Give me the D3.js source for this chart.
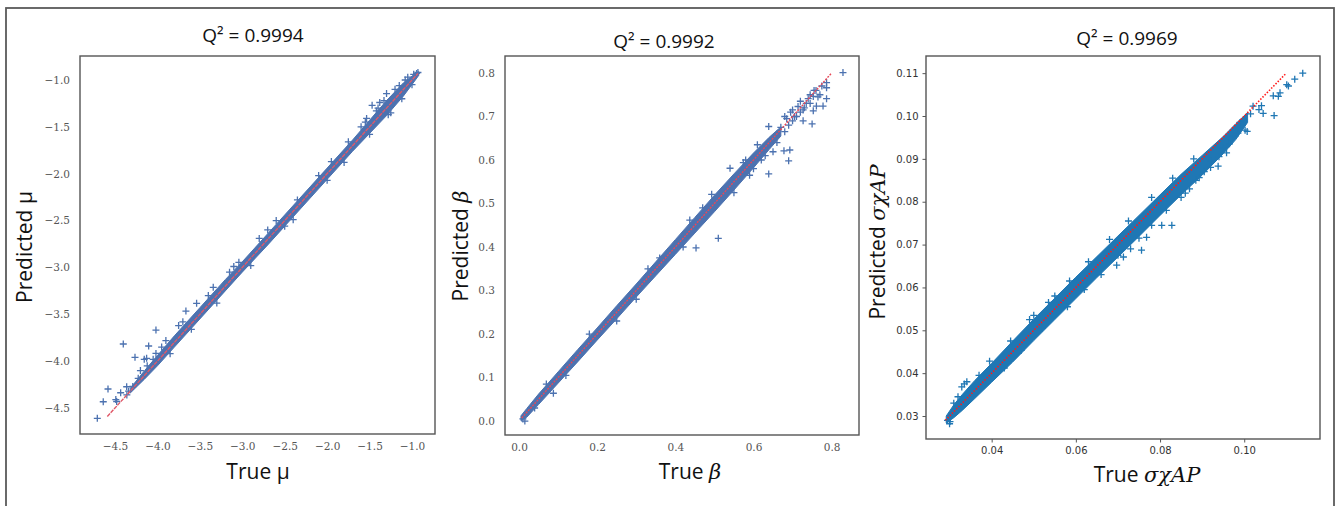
<!DOCTYPE html>
<html>
<head>
<meta charset="utf-8">
<script src="https://cdn.jsdelivr.net/npm/d3@7"></script>
<style>
  html, body { margin: 0; padding: 0; background: #fff; }
  svg { display: block; }
</style>
</head>
<body>
<svg id="chart" width="1336" height="506"></svg>
<script>
// ---------------- DATA ----------------
const titles = ["Q² = 0.9994", "Q² = 0.9992", "Q² = 0.9969"];

// Panel 1: mu
const muTicksX = [-4.5, -4.0, -3.5, -3.0, -2.5, -2.0, -1.5, -1.0];
const muTicksY = [-4.5, -4.0, -3.5, -3.0, -2.5, -2.0, -1.5, -1.0];
const muBandTrue = [-4.32, -4.15, -4.0, -3.8, -3.5, -3.2, -3.0, -2.7, -2.5, -2.2, -2.0, -1.7, -1.5, -1.3, -1.1, -0.96, -0.92];
const muBandLo   = [-4.34, -4.19, -4.05, -3.85, -3.55, -3.25, -3.05, -2.76, -2.56, -2.26, -2.06, -1.76, -1.57, -1.38, -1.17, -1.00, -0.95];
const muBandHi   = [-4.29, -4.10, -3.94, -3.73, -3.43, -3.13, -2.94, -2.64, -2.44, -2.14, -1.94, -1.64, -1.43, -1.22, -1.03, -0.93, -0.91];
const muPoints = [
  [-4.708, -4.61], [-4.638, -4.433], [-4.582, -4.297], [-4.49, -4.41], [-4.48, -4.43],
  [-4.433, -4.337], [-4.362, -4.273], [-4.402, -3.817], [-4.264, -3.959], [-4.155, -3.98],
  [-4.127, -3.97], [-4.103, -3.838], [-4.017, -3.668], [-4.29, -4.27], [-4.226, -4.183],
  [-4.017, -3.917], [-3.664, -3.465], [-3.538, -3.383], [-3.342, -3.212], [-3.04, -2.945],
  [-2.80, -2.69], [-1.47, -1.27], [-1.535, -1.41], [-1.30, -1.145], [-0.946, -0.93],
  [-0.93, -0.92], [-3.9, -3.78], [-3.75, -3.62], [-3.4, -3.3], [-3.15, -3.05],
  [-2.6, -2.5], [-2.35, -2.28], [-1.95, -1.87], [-1.6, -1.5], [-1.4, -1.3],
  [-1.2, -1.1], [-1.05, -0.97], [-3.85, -3.92], [-3.3, -3.38], [-2.9, -2.98],
  [-2.4, -2.49], [-1.8, -1.88], [-1.25, -1.35], [-1.0, -1.05], [-4.34, -4.32],
  [-4.2, -4.1], [-4.05, -3.98], [-4.36, -4.36], [-4.12, -4.05], [-3.95, -3.85],
  [-3.7, -3.58], [-3.6, -3.66], [-3.1, -2.99], [-2.7, -2.6], [-2.5, -2.56],
  [-2.1, -2.02], [-2.0, -2.07], [-1.75, -1.66], [-1.55, -1.45], [-1.5, -1.58],
  [-1.38, -1.24], [-1.33, -1.22], [-1.42, -1.33], [-1.15, -1.06], [-1.12, -1.2],
  [-1.08, -1.0], [-0.98, -0.94], [-1.28, -1.37]
];
const muLine = [-4.59, -0.93];

// Panel 2: beta
const betaTicksX = [0.0, 0.2, 0.4, 0.6, 0.8];
const betaTicksY = [0.0, 0.1, 0.2, 0.3, 0.4, 0.5, 0.6, 0.7, 0.8];
const betaBandTrue = [0.005, 0.02, 0.05, 0.1, 0.15, 0.2, 0.25, 0.3, 0.35, 0.4, 0.45, 0.5, 0.55, 0.6, 0.64, 0.67];
const betaBandLo   = [0.001, 0.009, 0.038, 0.087, 0.136, 0.186, 0.235, 0.285, 0.334, 0.383, 0.432, 0.481, 0.531, 0.582, 0.624, 0.655];
const betaBandHi   = [0.012, 0.029, 0.062, 0.113, 0.164, 0.214, 0.265, 0.315, 0.366, 0.417, 0.468, 0.519, 0.568, 0.616, 0.652, 0.676];
const betaPoints = [
  [0.829, 0.801], [0.787, 0.778], [0.787, 0.766], [0.787, 0.741], [0.778, 0.724],
  [0.750, 0.683], [0.761, 0.724], [0.740, 0.741], [0.727, 0.715], [0.753, 0.746],
  [0.714, 0.723], [0.753, 0.713], [0.727, 0.690], [0.693, 0.623], [0.678, 0.621],
  [0.690, 0.598], [0.639, 0.568], [0.639, 0.677], [0.650, 0.619], [0.540, 0.581],
  [0.510, 0.420], [0.453, 0.398], [0.493, 0.521], [0.574, 0.594], [0.437, 0.462],
  [0.088, 0.064], [0.705, 0.700], [0.720, 0.735], [0.760, 0.760], [0.770, 0.750],
  [0.620, 0.620], [0.660, 0.660], [0.600, 0.580], [0.580, 0.600], [0.550, 0.525],
  [0.470, 0.490], [0.420, 0.400], [0.360, 0.375], [0.300, 0.280], [0.330, 0.350],
  [0.250, 0.230], [0.180, 0.200], [0.120, 0.105], [0.070, 0.085], [0.040, 0.030],
  [0.010, 0.005], [0.015, 0.000], [0.660, 0.640], [0.670, 0.675], [0.690, 0.680],
  [0.700, 0.690], [0.695, 0.710], [0.710, 0.700], [0.720, 0.710], [0.730, 0.720],
  [0.735, 0.730], [0.745, 0.730], [0.745, 0.750], [0.755, 0.760], [0.765, 0.745],
  [0.775, 0.770], [0.680, 0.665], [0.685, 0.695], [0.640, 0.640], [0.630, 0.610],
  [0.610, 0.635], [0.620, 0.600], [0.680, 0.700], [0.700, 0.715], [0.590, 0.565]
];
const betaLine = [0.007, 0.80];

// Panel 3: sigma chi AP
const sxTicksX = [0.04, 0.06, 0.08, 0.10];
const sxTicksY = [0.03, 0.04, 0.05, 0.06, 0.07, 0.08, 0.09, 0.10, 0.11];
const sxBandTrue = [0.0292, 0.031, 0.033, 0.036, 0.040, 0.045, 0.050, 0.055, 0.060, 0.065, 0.070, 0.075, 0.080, 0.085, 0.090, 0.095, 0.098, 0.1008];
const sxBandLo   = [0.0284, 0.0296, 0.0313, 0.0341, 0.0379, 0.0426, 0.0476, 0.0525, 0.0574, 0.0623, 0.0671, 0.0719, 0.0768, 0.0816, 0.0862, 0.0912, 0.0945, 0.0985];
const sxBandHi   = [0.0300, 0.0326, 0.0350, 0.0383, 0.0423, 0.0475, 0.0526, 0.0575, 0.0624, 0.0672, 0.0720, 0.0768, 0.0816, 0.0864, 0.0908, 0.0952, 0.0982, 0.1008];
const sxPoints = [
  [0.1139, 0.1100], [0.1120, 0.1086], [0.1101, 0.1073], [0.1105, 0.1070], [0.1085, 0.1054],
  [0.1081, 0.1046], [0.1069, 0.1047], [0.1071, 0.1001], [0.1045, 0.1006], [0.1041, 0.1024],
  [0.1021, 0.1023], [0.1002, 0.0967], [0.1007, 0.0964], [0.0974, 0.0953], [0.0958, 0.0914],
  [0.0938, 0.0883], [0.0893, 0.0856], [0.0828, 0.0745], [0.0804, 0.0745], [0.0768, 0.0717],
  [0.0756, 0.0687], [0.0697, 0.0652], [0.0713, 0.0671], [0.0329, 0.0368], [0.0341, 0.0380],
  [0.0301, 0.0287], [0.0335, 0.0375], [0.0300, 0.0282], [0.0295, 0.0290], [0.0990, 0.0985],
  [0.1015, 0.1005], [0.1035, 0.1015], [0.0965, 0.0935], [0.0920, 0.0895], [0.0870, 0.0830],
  [0.0850, 0.0810], [0.0815, 0.0780], [0.0780, 0.0745], [0.0730, 0.0690], [0.0660, 0.0630],
  [0.0620, 0.0595], [0.0580, 0.0555], [0.0520, 0.0505], [0.0470, 0.0453], [0.0430, 0.0412],
  [0.0445, 0.0475], [0.0490, 0.0525], [0.0535, 0.0565], [0.0585, 0.0615], [0.0630, 0.0660],
  [0.0680, 0.0712], [0.0725, 0.0755], [0.0780, 0.0810], [0.0830, 0.0855], [0.0880, 0.0900],
  [0.0370, 0.0395], [0.0395, 0.0428], [0.0950, 0.0925], [0.0985, 0.0960], [0.0905, 0.0870],
  [0.0885, 0.0850], [0.0860, 0.0820], [0.0920, 0.0880], [0.0940, 0.0905], [0.0310, 0.0330],
  [0.0320, 0.0345], [0.0500, 0.0535], [0.0550, 0.0580], [0.0700, 0.0675], [0.0750, 0.0715]
];
const sxLine = [0.029, 0.110];

// ---------------- LAYOUT ----------------
const svg = d3.select("#chart");
svg.append("rect").attr("x", 0).attr("y", 0).attr("width", 1336).attr("height", 506).attr("fill", "#fff");
svg.append("rect").attr("x", 6).attr("y", 8).attr("width", 1328).attr("height", 520)
  .attr("fill", "none").attr("stroke", "#5a5a5a").attr("stroke-width", 1.8);

const LABEL_FONT = "'Open Sans', 'Noto Sans', sans-serif";
const MATH_FONT = "'DejaVu Serif', 'Liberation Serif', serif";

const panels = [
  {
    box: {x0: 80, x1: 435, y0: 56, y1: 434}, xDom: [-4.912, -0.729], yDom: [-4.777, -0.744],
    ticksX: muTicksX, ticksY: muTicksY, fmt: d3.format(".1f"), tickFont: "'DejaVu Serif', serif", tickSize: 10.5, tickColor: "#555", tickLen: 0,
    band: [muBandTrue, muBandLo, muBandHi], points: muPoints, line: muLine,
    color: "#4c72b0", lineColor: "#e05868", lineDash: "4,1", lineWidth: 1.4,
    title: titles[0], titleX: 253, titleY: 42,
    xLabel: ["True μ", null], xLabelX: 258, xLabelY: 479,
    yLabel: ["Predicted μ", null], yLabelX: 32, yLabelY: 247
  },
  {
    box: {x0: 505, x1: 859, y0: 56, y1: 435}, xDom: [-0.0358, 0.870], yDom: [-0.032, 0.839],
    ticksX: betaTicksX, ticksY: betaTicksY, fmt: d3.format(".1f"), tickFont: "'DejaVu Serif', serif", tickSize: 10.5, tickColor: "#555", tickLen: 0,
    band: [betaBandTrue, betaBandLo, betaBandHi], points: betaPoints, line: betaLine,
    color: "#4c72b0", lineColor: "#e84858", lineDash: "2,1.2", lineWidth: 1.4,
    title: titles[1], titleX: 664, titleY: 48,
    xLabel: ["True ", "β"], xLabelX: 690, xLabelY: 479,
    yLabel: ["Predicted ", "β"], yLabelX: 468, yLabelY: 246
  },
  {
    box: {x0: 926, x1: 1320, y0: 56, y1: 439}, xDom: [0.0244, 0.118], yDom: [0.02464, 0.1140],
    ticksX: sxTicksX, ticksY: sxTicksY, fmt: d3.format(".2f"), tickFont: "'DejaVu Sans', sans-serif", tickSize: 10, tickColor: "#333", tickLen: 3.5,
    band: [sxBandTrue, sxBandLo, sxBandHi], points: sxPoints, line: sxLine,
    color: "#1f77b4", lineColor: "#ff1a1a", lineDash: "1.5,1.6", lineWidth: 1.6,
    title: titles[2], titleX: 1127, titleY: 45,
    xLabel: ["True ", "σχAP"], xLabelX: 1147, xLabelY: 482,
    yLabel: ["Predicted ", "σχAP"], yLabelX: 885, yLabelY: 242
  }
];

const minus = s => s.replace("-", "\u2212");

panels.forEach(p => {
  const b = p.box;
  const x = d3.scaleLinear().domain(p.xDom).range([b.x0, b.x1]);
  const y = d3.scaleLinear().domain(p.yDom).range([b.y1, b.y0]);
  const g = svg.append("g");

  const clipId = "clip" + b.x0;
  svg.append("clipPath").attr("id", clipId).append("rect")
    .attr("x", b.x0).attr("y", b.y0).attr("width", b.x1 - b.x0).attr("height", b.y1 - b.y0);
  const plot = g.append("g").attr("clip-path", `url(#${clipId})`);

  // dense band of points
  const [bt, blo, bhi] = p.band;
  const bandData = bt.map((t, i) => ({t, lo: blo[i], hi: bhi[i]}));
  plot.append("path").datum(bandData)
    .attr("d", d3.area().x(d => x(d.t)).y0(d => y(d.lo)).y1(d => y(d.hi)))
    .attr("fill", p.color).attr("stroke", p.color).attr("stroke-width", 1).attr("stroke-linejoin", "round");

  // individual + markers
  const s = 3.5;
  plot.selectAll("path.pt").data(p.points).enter().append("path")
    .attr("class", "pt")
    .attr("d", d => `M${x(d[0]) - s},${y(d[1])}H${x(d[0]) + s}M${x(d[0])},${y(d[1]) - s}V${y(d[1]) + s}`)
    .attr("stroke", p.color).attr("stroke-width", 1.3).attr("fill", "none");

  // ideal line
  plot.append("line")
    .attr("x1", x(p.line[0])).attr("y1", y(p.line[0]))
    .attr("x2", x(p.line[1])).attr("y2", y(p.line[1]))
    .attr("stroke", p.lineColor).attr("stroke-width", p.lineWidth).attr("stroke-dasharray", p.lineDash);

  // axes
  const ax = g.append("g").attr("transform", `translate(0,${b.y1})`)
    .call(d3.axisBottom(x).tickValues(p.ticksX).tickFormat(d => minus(p.fmt(d)))
      .tickSize(p.tickLen).tickPadding(p.tickLen ? 4 : 9));
  const ay = g.append("g").attr("transform", `translate(${b.x0},0)`)
    .call(d3.axisLeft(y).tickValues(p.ticksY).tickFormat(d => minus(p.fmt(d)))
      .tickSize(p.tickLen).tickPadding(p.tickLen ? 4 : 10));
  [ax, ay].forEach(a => {
    a.select(".domain").remove();
    a.selectAll("text").attr("font-family", p.tickFont).attr("font-size", p.tickSize).attr("fill", p.tickColor);
    a.selectAll("line").attr("stroke", "#444").attr("stroke-width", 0.9);
  });

  // frame
  g.append("rect").attr("x", b.x0).attr("y", b.y0).attr("width", b.x1 - b.x0).attr("height", b.y1 - b.y0)
    .attr("fill", "none").attr("stroke", "#555").attr("stroke-width", 1.4);

  // title
  g.append("text").attr("x", p.titleX).attr("y", p.titleY).attr("text-anchor", "middle")
    .attr("font-family", LABEL_FONT).attr("font-size", 19).attr("fill", "#111").text(p.title);

  // x label
  const xl = g.append("text").attr("x", p.xLabelX).attr("y", p.xLabelY).attr("text-anchor", "middle")
    .attr("font-family", LABEL_FONT).attr("font-size", 21).attr("fill", "#111");
  xl.append("tspan").text(p.xLabel[0]);
  if (p.xLabel[1]) xl.append("tspan").attr("font-family", MATH_FONT).attr("font-style", "italic").text(p.xLabel[1]);

  // y label
  const yl = g.append("text").attr("transform", `translate(${p.yLabelX},${p.yLabelY}) rotate(-90)`)
    .attr("text-anchor", "middle")
    .attr("font-family", LABEL_FONT).attr("font-size", 21).attr("fill", "#111");
  yl.append("tspan").text(p.yLabel[0]);
  if (p.yLabel[1]) yl.append("tspan").attr("font-family", MATH_FONT).attr("font-style", "italic").text(p.yLabel[1]);
});
</script>
</body>
</html>
